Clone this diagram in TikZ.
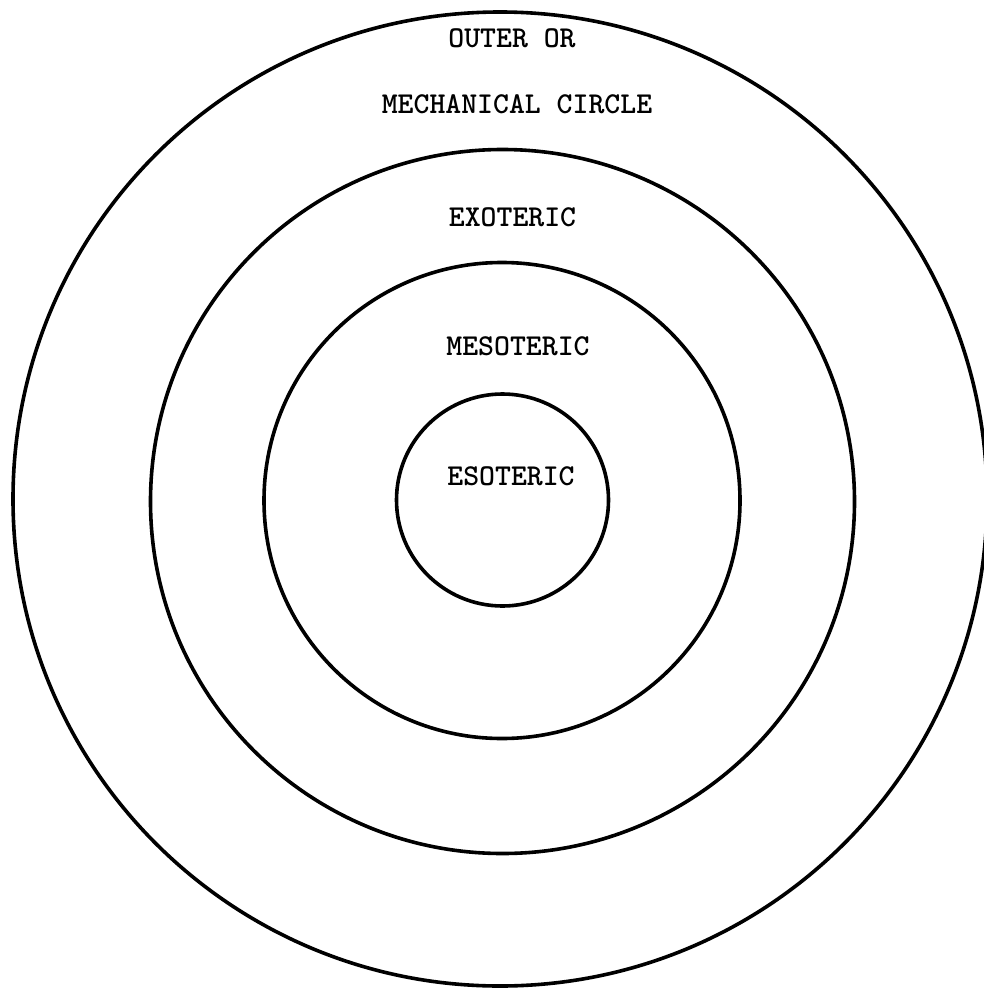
\documentclass[tikz,border=0pt]{standalone}
\usepackage{fontspec}
\tikzset{
  ring/.style={draw=black, line width=3.6pt, circle, inner sep=0pt, outer sep=0pt},
  lbl/.style={inner sep=0pt, font=\ttfamily\bfseries\fontsize{30.3}{34}\selectfont, text=black}
}
\begin{document}
\begin{tikzpicture}[x=1pt,y=-1pt]
\useasboundingbox (0,0) rectangle (984,990);
\clip (0,0) rectangle (984,990);
\fill[white] (0,0) rectangle (984,990);
\node[ring, minimum size=974pt] (outer) at (500,499) {};
\node[ring, minimum size=704pt] (exo) at (502.5,501.5) {};
\node[ring, minimum size=476pt] (meso) at (502,500.5) {};
\node[ring, minimum size=212pt] (eso) at (502.5,500) {};
\node[lbl] (t1) at (512,38) {OUTER OR};
\node[lbl] (t2) at (517,104) {MECHANICAL CIRCLE};
\node[lbl] (t3) at (512.5,217) {EXOTERIC};
\node[lbl] (t4) at (518,346) {MESOTERIC};
\node[lbl] (t5) at (511,476) {ESOTERIC};
\end{tikzpicture}
\end{document}
